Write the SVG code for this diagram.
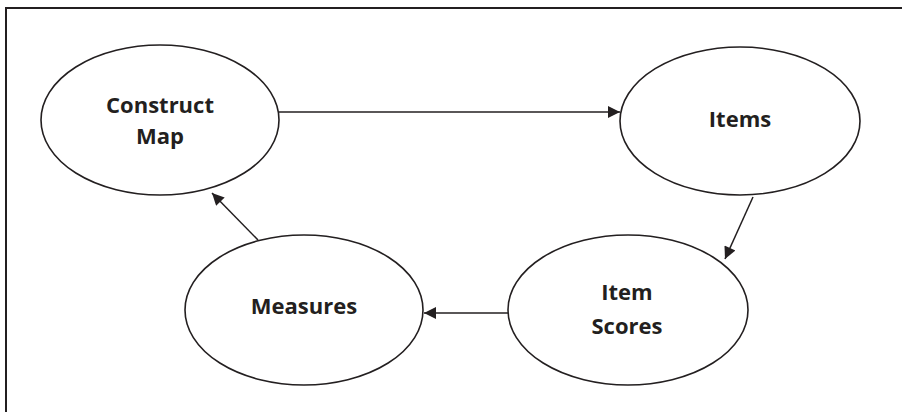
<svg xmlns="http://www.w3.org/2000/svg" width="902" height="412" viewBox="0 0 902 412">
<defs>
<style>
.node ellipse{fill:#fff;stroke:#231f20;stroke-width:1.6}
.node text{font-family:"Open Sans","Noto Sans",sans-serif;font-weight:bold;font-size:22px;fill:#231f20;text-anchor:middle}
.conn line{stroke:#231f20;stroke-width:1.5;marker-end:url(#ah)}
</style>
<marker id="ah" viewBox="0 0 10 10" refX="10" refY="5" markerWidth="14" markerHeight="12" markerUnits="userSpaceOnUse" orient="auto">
<path d="M0,0 L10,5 L0,10 Z" fill="#231f20"/>
</marker>
</defs>
<rect width="902" height="412" fill="#fff"/>
<path d="M6,412 V8 H902" fill="none" stroke="#231f20" stroke-width="2"/>
<g class="conn">
<line x1="279" y1="112" x2="620" y2="112"/>
<line x1="753" y1="197" x2="725" y2="259"/>
<line x1="508" y1="313" x2="424" y2="313"/>
<line x1="258" y1="240" x2="212" y2="193"/>
</g>
<g class="node" id="construct-map">
<ellipse cx="160" cy="120" rx="119" ry="75"/>
<text x="160" y="113">Construct</text>
<text x="160" y="144">Map</text>
</g>
<g class="node" id="items">
<ellipse cx="740" cy="121" rx="120" ry="74"/>
<text x="740" y="127">Items</text>
</g>
<g class="node" id="item-scores">
<ellipse cx="628" cy="310" rx="120" ry="75"/>
<text x="627" y="300">Item</text>
<text x="627" y="334">Scores</text>
</g>
<g class="node" id="measures">
<ellipse cx="304" cy="310" rx="119" ry="75"/>
<text x="304" y="314">Measures</text>
</g>
</svg>
